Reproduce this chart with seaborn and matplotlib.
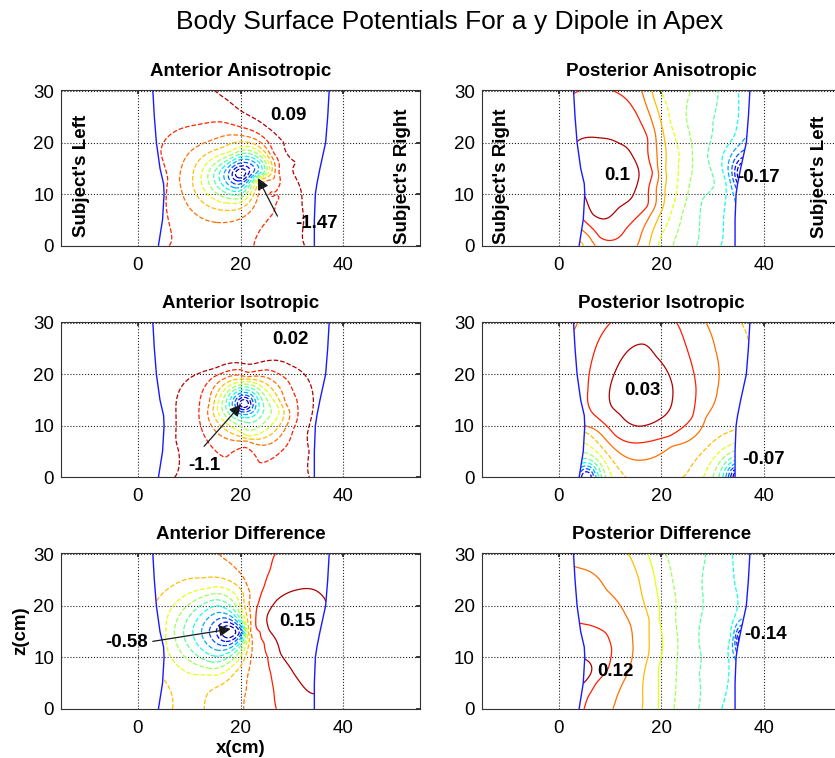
import numpy as np
import matplotlib
matplotlib.use("Agg")
import matplotlib.pyplot as plt
import seaborn as sns

sns.set_theme(style="white")
plt.rcParams['font.family'] = ['Liberation Sans', 'DejaVu Sans']
plt.rcParams['axes.unicode_minus'] = False
for key in ['text.color', 'axes.labelcolor', 'xtick.color', 'ytick.color']:
    plt.rcParams[key] = 'black'

# ---------------- torso outline (cm) ----------------
edge_z = [0.0, 5.0, 10.0, 12.0, 15.0, 20.0, 25.0, 30.2]
left_x = [4.0, 4.8, 5.1, 5.0, 4.3, 3.6, 3.2, 2.9]
right_x = [34.4, 34.4, 34.6, 34.9, 35.5, 36.6, 37.0, 37.3]

# ---------------- panel value ranges (min, max labels) ----------------
aa_range = (-1.47, 0.09)
pa_range = (-0.17, 0.10)
ai_range = (-1.10, 0.02)
pi_range = (-0.07, 0.03)
ad_range = (-0.58, 0.15)
pd_range = (-0.14, 0.12)

# ---------------- contour samples ----------------
# Anterior Anisotropic
aa_lv = [-1.47, -1.23, -0.99, -0.75, -0.51, -0.39, -0.27, -0.15, -0.03,
         -0.09, 0.0, 0.03, 0.07, 0.02]
aa_xs = [[20.0], [18.4, 21.6, 20.0, 20.0], [16.8, 23.0, 20.0, 20.0], [14.8, 24.2, 19.5, 19.5],
         [12.3, 23.9, 18.1, 18.1], [10.7, 25.2, 18.0, 18.0], [8.1, 26.5, 17.3, 17.3],
         [4.5, 8.4, 12.3, 16.2, 20.1, 24.0, 26.5, 27.5, 27.5, 26.5, 24.0, 22.6, 6.1, 5.5, 5.8],
         [14.9, 17.5, 20.0, 22.5, 25.2, 28.4, 30.7, 31.7, 32.0, 32.3, 32.5],
         [5.0], [34.0, 34.0, 34.0], [34.5], [36.0], [30.0]]
aa_zs = [[14.0], [14.0, 14.0, 15.4, 12.6], [14.0, 14.0, 16.7, 11.3], [13.8, 13.8, 17.6, 9.8],
         [13.25, 13.25, 18.3, 8.2], [13.3, 13.3, 19.8, 6.8], [13.0, 13.0, 21.4, 4.5],
         [18.0, 22.7, 23.6, 24.0, 23.0, 21.4, 18.0, 14.2, 9.4, 6.5, 3.3, 0.0, 0.0, 8.0, 13.0],
         [30.2, 28.2, 26.2, 24.8, 23.0, 20.0, 16.2, 11.0, 8.0, 4.5, 0.0],
         [28.0], [1.0, 6.0, 11.0], [20.0], [28.0], [29.0]]
aa_peaks = [(20.0, 14.0, 1.5, 1.4, 0.7), (20.0, 14.0, 4.5, 4.0, 0.7)]

# Posterior Anisotropic
pa_lv = [0.10, 0.079, 0.058, 0.03, -0.004, -0.024, -0.045, -0.066, -0.17, 0.065]
pa_xs = [[9.5], [3.1, 8.0, 11.9, 14.4, 15.7, 14.8, 11.9, 6.7, 5.3],
         [10.6, 15.1, 17.4, 18.3, 17.4, 13.2, 8.0],
         [17.0, 18.6, 19.6, 19.8, 19.6, 18.6, 16.4, 5.4],
         [20.0, 21.8, 23.5, 23.3, 22.9, 21.5, 19.6],
         [25.5, 25.8, 25.5, 24.0, 22.5], [31.0, 30.0, 29.0, 28.0, 27.1],
         [33.9, 32.6, 32.2, 31.9], [35.3], [4.0]]
pa_zs = [[13.8], [19.7, 21.0, 19.9, 17.5, 14.2, 10.3, 7.4, 6.0, 9.0],
         [30.2, 25.9, 20.7, 14.2, 7.8, 3.2, 1.6],
         [30.2, 25.0, 20.0, 15.0, 11.0, 6.1, 0.0, 1.5],
         [30.2, 24.0, 17.5, 13.0, 9.7, 5.0, 0.6],
         [30.2, 20.0, 12.3, 6.0, 1.0], [30.2, 24.0, 17.5, 9.0, 1.0],
         [20.7, 12.3, 6.0, 1.0], [14.0], [27.0]]
pa_peaks = [(9.5, 14.0, 6.0, 6.0, 1.0), (36.0, 14.0, 2.0, 3.0, 1.0)]

# Anterior Isotropic
ai_lv = [-1.10, -0.928, -0.669, -0.41, -0.238, -0.149, -0.063, -0.03, -0.04, 0.0,
         -0.13, -0.10]
ai_xs = [[20.7], [19.4, 22.0, 20.7, 20.7], [17.8, 23.6, 20.7, 20.7],
         [15.5, 27.5, 21.5, 21.5], [13.9, 28.8, 21.3, 21.3],
         [12.0, 14.9, 20.1, 25.2, 29.1, 31.1, 30.4, 27.8, 22.6, 17.5, 13.6, 12.0],
         [7.1, 7.1, 7.1, 7.8, 10.3, 14.9, 20.1, 25.2, 29.8, 33.0, 34.3, 33.7, 33.5, 33.5],
         [8.0, 30.0, 3.8], [5.0, 34.2, 4.2], [20.0], [21.0], [11.0, 30.5]]
ai_zs = [[14.3], [14.3, 14.3, 15.5, 13.1], [14.3, 14.3, 17.0, 11.6],
         [13.3, 13.3, 18.6, 8.0], [14.4, 14.4, 19.5, 7.0],
         [15.1, 19.6, 20.9, 20.9, 19.0, 15.1, 9.3, 4.7, 2.1, 3.4, 6.7, 10.6],
         [0.5, 7.0, 14.4, 17.0, 19.6, 21.2, 22.2, 22.7, 21.9, 19.6, 15.7, 10.6, 5.0, 0.5],
         [28.0, 28.0, 29.0], [5.0, 5.0, 22.0], [30.0], [0.3], [0.3, 0.3]]
ai_peaks = [(20.7, 14.3, 1.5, 1.4, 0.7), (20.7, 14.3, 4.5, 4.0, 0.7)]

# Posterior Isotropic
pi_lv = [0.03, 0.0223, 0.0146, 0.0069, -0.0008, -0.07, -0.06, 0.008, 0.0]
pi_xs = [[16.3], [10.3, 11.2, 13.8, 16.7, 19.0, 22.2, 22.2, 19.6, 15.7, 11.9],
         [10.3, 6.7, 5.7, 7.3, 11.2, 16.1, 21.6, 26.1, 26.8, 25.5, 22.9],
         [28.7, 30.6, 31.0, 28.7, 22.2, 17.0, 11.9, 5.4],
         [5.4, 12.3, 24.8, 34.5], [35.0], [5.3], [3.5], [36.0]]
pi_zs = [[17.5], [13.8, 20.9, 24.8, 25.8, 23.5, 17.7, 15.1, 11.2, 9.9, 12.2],
         [30.2, 23.5, 17.0, 11.8, 8.0, 6.7, 8.0, 11.8, 17.0, 23.5, 30.2],
         [30.2, 24.8, 17.0, 11.5, 6.0, 3.4, 4.7, 9.9],
         [8.6, 0.9, 0.5, 9.3], [0.5], [0.5], [28.0], [28.0]]
pi_peaks = [(16.3, 17.5, 6.0, 7.0, 1.0), (35.0, 0.0, 2.5, 3.0, 1.0), (5.5, 0.0, 2.5, 3.0, 1.0)]

# Anterior Difference
ad_lv = [-0.58, -0.411, -0.299, -0.187, -0.131, -0.075, -0.018, 0.038, 0.094, 0.15,
         -0.05, 0.07, -0.10]
ad_xs = [[17.5], [13.9, 20.2, 17.3, 17.3], [10.7, 20.7, 15.5, 15.5], [7.1, 21.0, 14.5, 14.5],
         [5.5, 21.2, 13.6, 13.6],
         [3.6, 6.5, 12.3, 17.5, 20.5, 21.4, 21.5, 18.8, 12.9, 5.2, 6.8],
         [15.8, 17.8, 19.4, 20.6, 21.4, 21.7, 22.0, 22.3, 22.1, 21.7, 21.2, 20.7],
         [26.9, 25.8, 24.6, 23.5, 23.0, 23.8, 24.6, 25.3, 25.9, 26.5, 27.0],
         [25.2, 27.2, 31.1, 34.3, 36.6, 36.2, 34.0, 30.4, 27.8, 25.6], [31.0],
         [8.0, 12.0], [32.0, 31.0], [10.0]]
ad_zs = [[15.0], [15.0, 15.0, 17.6, 12.3], [15.0, 15.0, 20.0, 10.2], [15.0, 15.0, 22.3, 7.8],
         [15.0, 15.0, 23.4, 6.6],
         [20.8, 23.7, 25.4, 25.0, 22.5, 17.0, 12.0, 6.9, 0.0, 5.6, 0.1],
         [30.2, 28.5, 27.0, 25.5, 23.7, 20.5, 17.3, 12.8, 10.0, 7.6, 4.0, 0.8],
         [30.2, 27.0, 23.7, 20.5, 17.6, 15.0, 12.8, 10.0, 6.9, 3.5, 0.1],
         [17.9, 21.2, 23.1, 23.1, 20.8, 16.0, 3.0, 6.9, 10.8, 15.3], [16.5],
         [29.0, 29.5], [28.0, 1.0], [0.3]]
ad_peaks = [(17.5, 15.0, 1.5, 1.5, 0.7), (17.5, 15.0, 4.5, 4.5, 0.7), (31.0, 16.5, 4.0, 5.0, 1.0)]

# Posterior Difference
pd_lv = [-0.14, 0.10, 0.08, 0.06, 0.04, 0.02, 0.0, -0.02, -0.03, -0.04, 0.12, 0.09, 0.05]
pd_xs = [[35.6], [5.1, 5.7], [3.1, 6.0, 9.3, 10.4, 9.6, 7.3, 5.6],
         [2.7, 5.4, 9.3, 13.2, 14.4, 14.1, 12.5, 10.9],
         [13.5, 15.7, 17.7, 17.6, 16.4], [17.4, 19.0, 19.6, 19.5, 19.4],
         [20.9, 22.2, 22.9, 23.2, 23.0, 22.5], [28.7, 28.2, 27.8, 27.4, 27.4, 27.4],
         [30.5, 30.5, 30.8, 31.2], [33.0, 33.2, 33.6, 34.4], [4.8],
         [4.0], [3.5]]
pd_zs = [[13.5], [9.5, 6.0], [17.0, 16.3, 14.7, 11.5, 7.6, 5.0, 2.1],
         [27.8, 27.0, 23.1, 17.9, 13.4, 8.9, 5.0, 0.8],
         [30.2, 25.0, 17.3, 10.8, 0.4], [30.2, 23.7, 17.3, 8.0, 0.1],
         [30.2, 25.0, 20.5, 14.0, 7.0, 0.4], [30.2, 22.0, 18.0, 14.0, 7.0, 0.4],
         [3.0, 14.0, 22.0, 29.0], [5.0, 9.5, 14.0, 18.0], [8.0],
         [2.0], [29.5]]
pd_peaks = [(35.6, 13.5, 1.5, 3.0, 1.0), (4.5, 8.0, 3.0, 4.0, 1.0)]


# ---------------- field reconstruction from the samples ----------------
def basis(x, z, peaks):
    u = (x - 20.0) / 17.0
    v = (z - 15.0) / 15.0
    cols = [np.ones_like(u), u, v, u * u, u * v, v * v]
    for px, pz, wx, wz, p in peaks:
        cols.append((1.0 + ((x - px) / wx) ** 2 + ((z - pz) / wz) ** 2) ** (-p))
    return np.stack(cols, axis=-1)


def tps_kernel(d):
    with np.errstate(divide='ignore', invalid='ignore'):
        k = d * d * np.log(d)
    return np.where(d > 0, k, 0.0)


def reconstruct(levels, xs, zs, peaks, X, Z, smooth=6e-4):
    x, z, v, w = [], [], [], []
    for i, (lv, xl, zl) in enumerate(zip(levels, xs, zs)):
        for a, b in zip(xl, zl):
            x.append(a); z.append(b); v.append(lv); w.append(3.0 if i == 0 else 1.0)
    x, z, v, w = map(lambda t: np.asarray(t, float), (x, z, v, w))
    # stage 1: smooth source model (least squares)
    A = basis(x, z, peaks) * w[:, None]
    n = A.shape[1]
    coef = np.linalg.solve(A.T @ A + 1e-4 * np.eye(n), A.T @ (v * w))
    res = v - basis(x, z, peaks) @ coef
    # stage 2: thin-plate spline through the residuals
    px, pz = x / 10.0, z / 10.0
    d = np.hypot(px[:, None] - px[None, :], pz[:, None] - pz[None, :])
    m = len(x)
    M = np.zeros((m + 3, m + 3))
    M[:m, :m] = tps_kernel(d) + smooth * np.eye(m)
    P = np.column_stack([np.ones(m), px, pz])
    M[:m, m:] = P
    M[m:, :m] = P.T
    sol = np.linalg.solve(M, np.concatenate([res, np.zeros(3)]))
    wts, aff = sol[:m], sol[m:]
    gxs, gzs = X / 10.0, Z / 10.0
    D = np.hypot(gxs[..., None] - px, gzs[..., None] - pz)
    corr = tps_kernel(D) @ wts + aff[0] + aff[1] * gxs + aff[2] * gzs
    return basis(X, Z, peaks) @ coef + corr


gx = np.linspace(0, 40, 321)
gz = np.linspace(0, 30.2, 243)
X, Z = np.meshgrid(gx, gz)
LB = np.interp(Z, edge_z, left_x)
RB = np.interp(Z, edge_z, right_x)
outside = (X < LB) | (X > RB)

# ---------------- figure ----------------
fig = plt.figure(figsize=(8.35, 7.58), dpi=100)
fig.text(450 / 835, 1 - 22 / 758, 'Body Surface Potentials For a y Dipole in Apex',
         ha='center', va='center', fontsize=19)

col_x = [61 / 835, 481.7 / 835]
row_top = [90.0, 321.7, 553.3]
ax_w = 359 / 835
ax_h = 155.5 / 758

panels = [
    ('Anterior Anisotropic', 0, 0, aa_lv, aa_xs, aa_zs, aa_peaks, aa_range, 6e-4),
    ('Posterior Anisotropic', 0, 1, pa_lv, pa_xs, pa_zs, pa_peaks, pa_range, 6e-4),
    ('Anterior Isotropic', 1, 0, ai_lv, ai_xs, ai_zs, ai_peaks, ai_range, 6e-4),
    ('Posterior Isotropic', 1, 1, pi_lv, pi_xs, pi_zs, pi_peaks, pi_range, 6e-4),
    ('Anterior Difference', 2, 0, ad_lv, ad_xs, ad_zs, ad_peaks, ad_range, 6e-4),
    ('Posterior Difference', 2, 1, pd_lv, pd_xs, pd_zs, pd_peaks, pd_range, 1e-2),
]

FS = 13.5
axes = {}
for title, r, c, lv, xs, zs, peaks, (lo, hi), sm in panels:
    ax = fig.add_axes([col_x[c], 1 - (row_top[r] + 155.5) / 758, ax_w, ax_h])
    axes[title] = ax
    F = reconstruct(lv, xs, zs, peaks, X, Z, sm)
    F = np.ma.masked_where(outside, F)
    levels = np.linspace(lo, hi, 14)[1:-1]
    step = levels[1] - levels[0]
    styles = ['--' if l <= 1e-9 else '-' for l in levels]
    ax.contour(X, Z, F, levels=levels, cmap='jet',
               vmin=levels[0] - 0.5 * step, vmax=levels[-1] + 0.5 * step,
               linewidths=0.9, linestyles=styles)
    sns.lineplot(x=left_x, y=edge_z, sort=False, estimator=None, color='#1a1aff', lw=1.0, ax=ax)
    sns.lineplot(x=right_x, y=edge_z, sort=False, estimator=None, color='#1a1aff', lw=1.0, ax=ax)
    ax.set_xlim(-15, 55)
    ax.set_ylim(0, 30.2)
    ax.set_xticks([0, 20, 40])
    ax.set_yticks([0, 10, 20, 30])
    ax.grid(True, color='#222222', linestyle=':', linewidth=0.8)
    ax.tick_params(direction='in', length=3, labelsize=FS, color='#222222',
                   top=True, right=True)
    ax.tick_params(axis='x', pad=8)
    ax.tick_params(axis='y', pad=5)
    for s in ax.spines.values():
        s.set_visible(True)
        s.set_color('#333333')
        s.set_linewidth(0.8)
    ax.set_title(title, fontsize=FS, fontweight='bold', pad=10)
    ax.set_xlabel('')
    ax.set_ylabel('')

bold = dict(fontsize=FS, fontweight='bold', ha='center', va='center')
arrow = dict(arrowstyle='-|>', color='k', lw=0.9, shrinkA=0, shrinkB=0, mutation_scale=17)

ax = axes['Anterior Anisotropic']
ax.text(-11.0, 13.5, "Subject's Left", rotation=90, **bold)
ax.text(51.5, 13.5, "Subject's Right", rotation=90, **bold)
ax.text(29.4, 25.2, '0.09', **bold)
ax.text(34.8, 4.2, '-1.47', **bold)
ax.annotate('', xy=(23.4, 13.1), xytext=(27.2, 5.7), arrowprops=arrow)

ax = axes['Posterior Anisotropic']
ax.text(-11.2, 13.5, "Subject's Right", rotation=90, **bold)
ax.text(50.9, 13.3, "Subject's Left", rotation=90, **bold)
ax.text(11.4, 13.6, '0.1', **bold)
ax.text(39.0, 13.3, '-0.17', **bold)

ax = axes['Anterior Isotropic']
ax.text(29.8, 26.7, '0.02', **bold)
ax.text(12.9, 2.3, '-1.1', **bold)
ax.annotate('', xy=(20.1, 14.1), xytext=(12.9, 6.0), arrowprops=arrow)

ax = axes['Posterior Isotropic']
ax.text(16.4, 16.9, '0.03', **bold)
ax.text(40.0, 3.4, '-0.07', **bold)

ax = axes['Anterior Difference']
ax.text(31.1, 17.0, '0.15', **bold)
ax.text(-2.3, 12.8, '-0.58', **bold)
ax.annotate('', xy=(18.1, 15.5), xytext=(2.9, 13.1), arrowprops=arrow)
ax.set_xlabel('x(cm)', fontsize=FS, fontweight='bold', labelpad=2)
ax.set_ylabel('z(cm)', fontsize=FS, fontweight='bold', labelpad=3)

ax = axes['Posterior Difference']
ax.text(11.0, 7.2, '0.12', **bold)
ax.text(40.3, 14.4, '-0.14', **bold)

fig.savefig('out.png', dpi=100)
